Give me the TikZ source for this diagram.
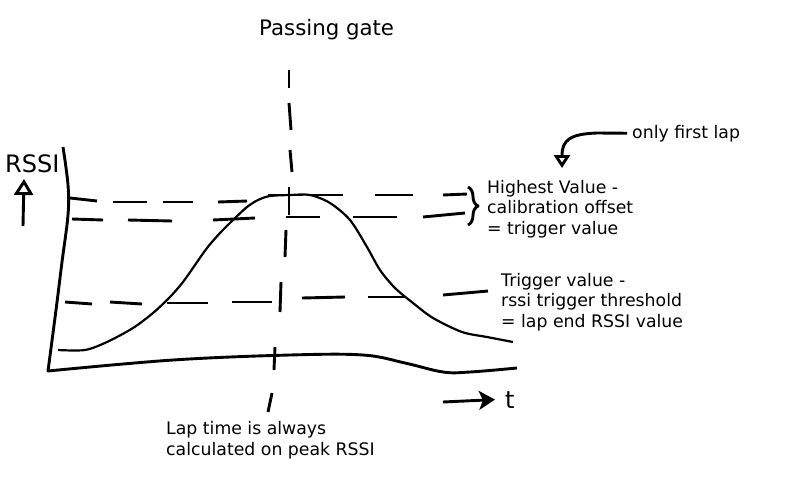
\documentclass[tikz,border=0pt]{standalone}
\usepackage{fontspec}
\setmainfont{DejaVu Sans}
\usetikzlibrary{arrows.meta, decorations.pathreplacing}

\begin{document}
\begin{tikzpicture}[x=1pt, y=-1pt, line join=round,
  stroke/.style={line width=2.9pt},
  thinstroke/.style={line width=2.2pt},
  lbl/.style={anchor=base west, inner sep=0pt, align=left,
    font=\fontsize{17.3}{20.5}\selectfont},
  biglbl/.style={anchor=base west, inner sep=0pt, font=\fontsize{24}{28}\selectfont}]
  \useasboundingbox[fill=white] (0,0) rectangle (800,480);
  % Labels (base = last line)
  \node[anchor=base west, inner sep=0pt, font=\fontsize{21.3}{25}\selectfont] (gate) at (259,35) {Passing gate};
  \node[biglbl] (rssi) at (5,172) {RSSI};
  \node[biglbl] (tlab) at (505,408) {t};
  \node[lbl] (lap) at (632,138) {only first lap};
  \node[lbl] (hv) at (487,234) {Highest Value -\\calibration offset\\= trigger value};
  \node[lbl] (trig) at (501,327) {Trigger value -\\rssi trigger threshold\\= lap end RSSI value};
  \node[lbl] (laptime) at (166,455) {Lap time is always\\calculated on peak RSSI};
  % Axes
  \draw[stroke] plot[smooth, tension=0.6] coordinates {(63,147) (68,185) (68,215) (62,262) (56,310) (48,371)}
    -- plot[smooth, tension=0.6] coordinates {(48,371) (173,360) (290,355) (363,355) (405,363) (443,372) (470,372) (517,368)};
  \coordinate (ybot) at (23,226);
  \coordinate (ytop) at (24,179);
  \draw[stroke, -{Triangle[open, length=16pt, width=19pt]}] (ybot) -- (ytop);
  \coordinate (xstart) at (443,402);
  \draw[stroke, -{Stealth[length=16pt, width=19pt, inset=4pt]}] (xstart) -- ([xshift=-10pt]tlab.west);
  % Courbe RSSI
  \draw[thinstroke] plot[smooth, tension=0.5] coordinates {(58,350) (85,350) (107,342) (133,328) (153,313)
    (170,297) (183,282) (195,265) (207,248) (220,233) (233,220) (247,207) (258,200) (270,196) (290,195)
    (310,195) (330,203) (350,220) (367,247) (380,270) (395,288) (413,303) (433,318) (462,332) (487,337) (513,342)};
  % Porte (tirets verticaux)
  \foreach \xa/\ya/\xb/\yb in {289/70/289/88, 289/103/291/130, 290/150/292/172, 289/187/289/215,
      286/230/285/257, 281/282/280/312, 275/347/274/370, 272/393/268/412}
    \draw[stroke] (\xa,\ya) -- (\xb,\yb);
  % Valeur max
  \foreach \xa/\ya/\xb/\yb in {70/198/97/201, 113/202/147/202, 163/202/193/202, 218/202/247/201,
      268/195/303/195, 310/195/343/195, 375/195/413/195, 443/195/467/194}
    \draw[stroke] (\xa,\ya) -- (\xb,\yb);
  % Valeur max - offset
  \foreach \xa/\ya/\xb/\yb in {72/219/103/220, 128/220/172/221, 213/220/255/218, 286/217/320/217,
      353/217/397/217, 423/217/465/213}
    \draw[stroke] (\xa,\ya) -- (\xb,\yb);
  % Seuil de fin de tour
  \foreach \xa/\ya/\xb/\yb in {65/302/92/304, 110/302/142/304, 167/303/208/303, 232/302/272/302,
      302/298/345/297, 368/297/405/297, 443/295/488/291}
    \draw[stroke] (\xa,\ya) -- (\xb,\yb);
  % Accolade et renvoi
  \draw[stroke, decorate, decoration={brace, amplitude=10pt}] (468,187) -- (468,225);
  \coordinate (lapend) at (562,168);
  \draw[stroke, -{Triangle[open, length=13pt, width=16pt]}] ([xshift=-5pt]lap.west) -- (597,133)
    .. controls (570,134) and (562,140) .. (lapend);
\end{tikzpicture}
\end{document}
